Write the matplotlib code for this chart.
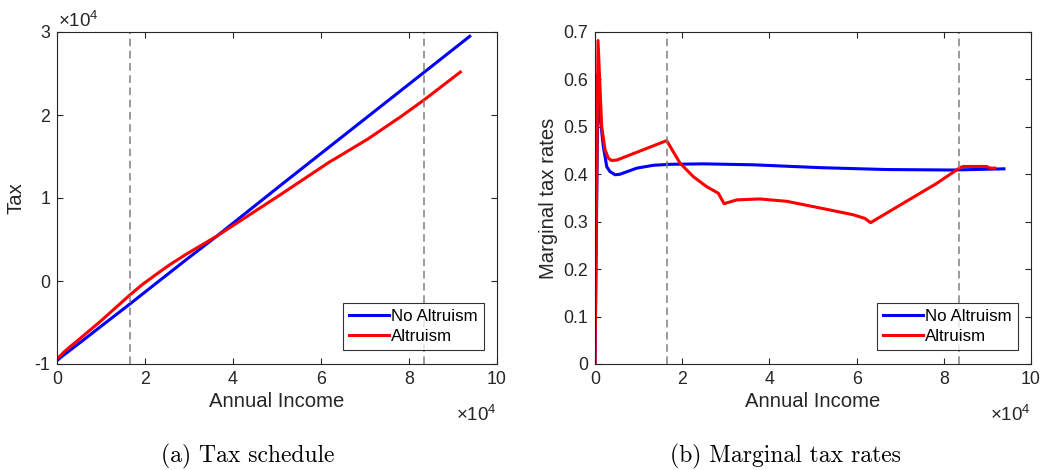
import matplotlib
matplotlib.use("Agg")
import matplotlib.pyplot as plt

plt.rcParams['font.family'] = ['Liberation Sans', 'DejaVu Sans']
plt.rcParams['mathtext.fontset'] = 'custom'
plt.rcParams['mathtext.rm'] = 'Liberation Sans'
plt.rcParams['mathtext.it'] = 'Liberation Sans'

# ---- data: tax schedule ----
tax_noalt_x = [0, 700, 1500, 3000, 5000, 10000, 16550, 21850, 29440, 36300, 50700, 62070, 73460, 83470, 93800]
tax_noalt_y = [-9600, -9270, -8930, -8330, -7520, -5460, -2775, -560, 2600, 5400, 11480, 16230, 20985, 25164, 29480]
tax_alt_x = [0, 700, 1530, 3060, 5000, 10000, 16550, 19500, 22550, 25600, 29440, 36300, 50700, 62070, 63200,
             70700, 78400, 83470, 91670]
tax_alt_y = [-9300, -9060, -8580, -7880, -7040, -4800, -1689, -380, 800, 1950, 3250, 5400, 10374, 14390, 14730,
             17126, 19898, 21834, 25175]

# ---- data: marginal tax rates ----
mtr_noalt_x = [0, 700, 1200, 1900, 2700, 3400, 4600, 5700, 9600, 13400, 17200, 24800, 36300, 51600, 66900, 82000, 93800]
mtr_noalt_y = [0.0, 0.61, 0.52, 0.459, 0.416, 0.406, 0.399, 0.400, 0.413, 0.419, 0.421, 0.422, 0.420, 0.414, 0.410, 0.409, 0.4115]
mtr_alt_x = [0, 690, 1530, 2300, 3060, 3800, 5000, 16440, 19500, 22550, 25600, 28300, 29600, 32500, 37800, 44000,
             51600, 59300, 61900, 63200, 70700, 78400, 83700, 84500, 89800, 90600, 91700]
mtr_alt_y = [0.0, 0.682, 0.501, 0.452, 0.434, 0.429, 0.430, 0.471, 0.4235, 0.395, 0.374, 0.360, 0.338, 0.346, 0.348, 0.343,
             0.329, 0.3145, 0.307, 0.298, 0.339, 0.381, 0.414, 0.4165, 0.4165, 0.413, 0.413]

thresholds = [16550, 83470]
series_labels = ['No Altruism', 'Altruism']
captions = ['(a) Tax schedule', '(b) Marginal tax rates']

axcol = (0.15, 0.15, 0.15)

fig = plt.figure(figsize=(10.46, 4.70), dpi=100)
ax1 = fig.add_axes([57 / 1046, 1 - 364 / 470, 440 / 1046, 332 / 470])
ax2 = fig.add_axes([595 / 1046, 1 - 364 / 470, 436 / 1046, 332 / 470])


def style(ax):
    for s in ax.spines.values():
        s.set_color(axcol)
        s.set_linewidth(0.8)
    ax.tick_params(direction='in', length=4.5, width=0.8, colors=axcol, labelsize=12.8,
                   top=True, right=True, pad=5)
    ax.set_xlabel('Annual Income', fontsize=14.6, color=axcol, labelpad=3)


def add_legend(ax, h):
    leg = ax.legend(h, series_labels, loc='lower right', prop={'size': 12.2}, frameon=True, fancybox=False,
                    edgecolor='black', handlelength=2.35, handletextpad=0.15, borderpad=0.35,
                    labelspacing=0.3, bbox_to_anchor=(0.97, 0.043), borderaxespad=0)
    leg.get_frame().set_linewidth(0.8)


# left panel
h1, = ax1.plot(tax_noalt_x, tax_noalt_y, color='#0000ff', lw=2.2)
h2, = ax1.plot(tax_alt_x, tax_alt_y, color='#ff0000', lw=2.2)
for t in thresholds:
    ax1.axvline(t, color='#808080', lw=1.1, ls=(0, (5, 3)))
ax1.set_xlim(0, 100000)
ax1.set_ylim(-10000, 30000)
ax1.set_xticks([0, 20000, 40000, 60000, 80000, 100000])
ax1.set_xticklabels(['0', '2', '4', '6', '8', '10'])
ax1.set_yticks([-10000, 0, 10000, 20000, 30000])
ax1.set_yticklabels(['-1', '0', '1', '2', '3'])
style(ax1)
ax1.set_ylabel('Tax', fontsize=14.6, color=axcol, labelpad=6)
add_legend(ax1, [h1, h2])

# right panel
g1, = ax2.plot(mtr_noalt_x, mtr_noalt_y, color='#0000ff', lw=2.2)
g2, = ax2.plot(mtr_alt_x, mtr_alt_y, color='#ff0000', lw=2.2)
for t in thresholds:
    ax2.axvline(t, color='#808080', lw=1.1, ls=(0, (5, 3)))
ax2.set_xlim(0, 100000)
ax2.set_ylim(0, 0.7)
ax2.set_xticks([0, 20000, 40000, 60000, 80000, 100000])
ax2.set_xticklabels(['0', '2', '4', '6', '8', '10'])
ax2.set_yticks([0, 0.1, 0.2, 0.3, 0.4, 0.5, 0.6, 0.7])
ax2.set_yticklabels(['0', '0.1', '0.2', '0.3', '0.4', '0.5', '0.6', '0.7'])
style(ax2)
ax2.set_ylabel('Marginal tax rates', fontsize=14.6, color=axcol, labelpad=4)
add_legend(ax2, [g1, g2])

# exponent labels
exp_txt = r'$\times10^{4}$'
fig.text(58 / 1046, 1 - 27 / 470, exp_txt, fontsize=13.5, color=axcol, ha='left', va='baseline')
fig.text(497 / 1046, 1 - 421 / 470, exp_txt, fontsize=13.5, color=axcol, ha='right', va='baseline')
fig.text(1031 / 1046, 1 - 421 / 470, exp_txt, fontsize=13.5, color=axcol, ha='right', va='baseline')

# captions
fig.text(248 / 1046, 1 - 462 / 470, captions[0], fontsize=17, family=['cmr10'], ha='center', va='baseline')
fig.text(785 / 1046, 1 - 462 / 470, captions[1], fontsize=17, family=['cmr10'], ha='center', va='baseline')

fig.savefig('out.png', dpi=100)
